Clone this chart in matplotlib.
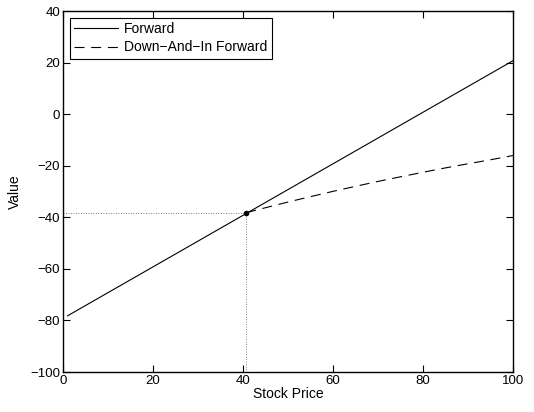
import matplotlib
matplotlib.use("Agg")
import matplotlib.pyplot as plt

plt.rcParams['font.family'] = ['Liberation Sans', 'DejaVu Sans']

# Data
fwd_S = [1, 100]
fwd_V = [-78.2, 20.8]

dai_S = [40.7, 45, 50, 55, 60, 65, 70, 75, 80, 85, 90, 95, 100]
dai_V = [-38.2, -36.25, -34.05, -31.95, -29.9, -27.95, -26.05, -24.25, -22.5, -20.8, -19.2, -17.65, -16.0]

barrier_S = 40.7
barrier_V = -38.2

xticks = [0, 20, 40, 60, 80, 100]
yticks = [-100, -80, -60, -40, -20, 0, 20, 40]

fig = plt.figure(figsize=(5.34, 4.12), dpi=100)
ax = fig.add_axes([0.118, 0.097, 0.843, 0.876])

ax.plot(fwd_S, fwd_V, color='black', lw=0.8, label='Forward')
ax.plot(dai_S, dai_V, color='black', lw=0.8, ls=(0, (9, 6)), label='Down\u2212And\u2212In Forward')
ax.plot([barrier_S, barrier_S], [-100, barrier_V], color='#555555', lw=0.6, ls=(0, (1, 2)))
ax.plot([0, barrier_S], [barrier_V, barrier_V], color='#555555', lw=0.6, ls=(0, (1, 2)))
ax.plot([barrier_S], [barrier_V], 'o', color='black', ms=3)

ax.set_xlim(0, 100)
ax.set_ylim(-100, 40)
ax.set_xticks(xticks)
ax.set_yticks(yticks)
ax.set_yticklabels([str(t).replace('-', '\u2212') for t in yticks])
ax.tick_params(direction='in', top=True, right=True, length=5, width=0.8, labelsize=9.5, pad=2)
for s in ax.spines.values():
    s.set_linewidth(1.0)

ax.set_xlabel('Stock Price', fontsize=10, labelpad=0)
ax.set_ylabel('Value', fontsize=10, labelpad=6)

leg = ax.legend(loc='upper left', fontsize=10, frameon=True, fancybox=False,
                edgecolor='black', framealpha=1, borderpad=0.3, labelspacing=0.3,
                handlelength=3.15, borderaxespad=0.5, handletextpad=0.45)
leg.get_frame().set_linewidth(0.8)

fig.savefig('out.png', dpi=100)
